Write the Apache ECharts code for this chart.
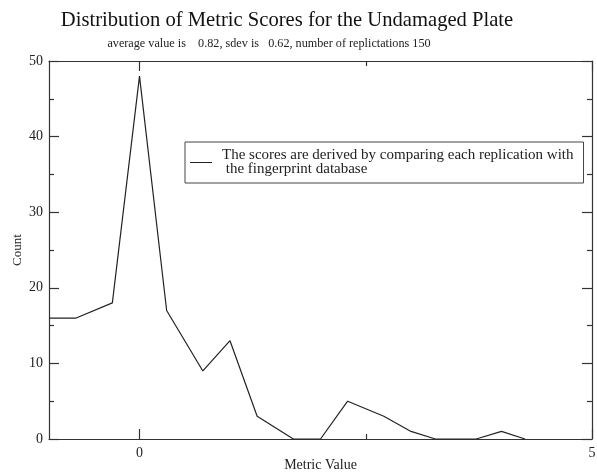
<!DOCTYPE html>
<html>
  <head>
    <meta charset="utf-8" />
    <title>Distribution of Metric Scores</title>
    <script src="https://cdn.jsdelivr.net/npm/echarts@6/dist/echarts.min.js"></script>
    <style>
      html, body { margin: 0; padding: 0; background: #fff; }
      #main { width: 597px; height: 472px; }
    </style>
  </head>
  <body>
    <div id="main"></div>
    <script>
      // metric values (x) and counts (y)
      var metric = [-1, -0.7, -0.3, 0, 0.3, 0.7, 1, 1.3, 1.7, 2, 2.3, 2.7, 3, 3.27, 3.72, 4, 4.26];
      var counts = [16, 16, 18, 48, 17, 9, 13, 3, 0, 0, 5, 3, 1, 0, 0, 1, 0];
      var xMajor = [0, 5];
      var xMinor = [2.5];
      var legendName = 'The scores are derived by comparing each replication with\n the fingerprint database';

      var font = 'Liberation Serif';
      var axisCol = '#333';

      var points = metric.map(function (m, i) { return [m, counts[i]]; });

      // one x axis helper: position, which ticks, labels or not
      function xAx(pos, ticks, len, labels, line) {
        return {
          type: 'value', min: -1, max: 5, position: pos,
          axisLine: { show: line, onZero: false, lineStyle: { color: axisCol, width: 1.2 } },
          axisTick: { show: true, inside: true, length: len, customValues: ticks,
                      lineStyle: { color: axisCol, width: 1.2 } },
          axisLabel: { show: labels, customValues: xMajor, fontFamily: font, fontSize: 14,
                       color: '#222', margin: 7 },
          splitLine: { show: false },
          name: labels ? 'Metric Value' : '', nameLocation: 'middle', nameGap: 19,
          nameMoveOverlap: false,
          nameTextStyle: { fontFamily: font, fontSize: 14, color: '#222' }
        };
      }

      function yAx(pos, labels) {
        return {
          type: 'value', min: 0, max: 50, interval: 10, position: pos,
          axisLine: { show: true, onZero: false, lineStyle: { color: axisCol, width: 1.2 } },
          axisTick: { show: true, inside: true, length: 10, lineStyle: { color: axisCol, width: 1.2 } },
          minorTick: { show: true, splitNumber: 2, length: 5, lineStyle: { color: axisCol, width: 1.2 } },
          axisLabel: { show: labels, fontFamily: font, fontSize: 14, color: '#222', margin: 6 },
          splitLine: { show: false },
          name: labels ? 'Count' : '', nameLocation: 'middle', nameGap: 25,
          nameMoveOverlap: false,
          nameTextStyle: { fontFamily: font, fontSize: 13, color: '#222' }
        };
      }

      var chart = echarts.init(document.getElementById('main'));
      chart.setOption({
        backgroundColor: '#fff',
        animation: false,
        title: [{
          text: 'Distribution of Metric Scores for the Undamaged Plate',
          left: 282, textAlign: 'center', top: 5,
          textStyle: { fontFamily: font, fontSize: 20.6, fontWeight: 'normal', color: '#111' }
        }, {
          text: 'average value is    0.82, sdev is   0.62, number of replictations 150',
          left: 264, textAlign: 'center', top: 33,
          textStyle: { fontFamily: font, fontSize: 12.2, fontWeight: 'normal', color: '#222' }
        }],
        grid: { left: 49, right: 5, top: 61, bottom: 33, outerBoundsMode: 'none', containLabel: false },
        legend: {
          left: 185, top: 142,
          orient: 'vertical',
          padding: [6, 10, 6, 5],
          borderColor: '#444', borderWidth: 1,
          itemWidth: 22, itemHeight: 1,
          icon: 'rect',
          itemStyle: { color: '#222' },
          textStyle: { fontFamily: font, fontSize: 15, color: '#222', lineHeight: 14, padding: [0, 0, 0, 5] },
          data: [legendName]
        },
        xAxis: [
          xAx('bottom', xMajor, 10, true, true),
          xAx('top', xMajor, 10, false, true),
          xAx('bottom', xMinor, 5, false, false),
          xAx('top', xMinor, 5, false, false)
        ],
        yAxis: [yAx('left', true), yAx('right', false)],
        series: [{
          name: legendName,
          type: 'line',
          data: points,
          showSymbol: false,
          symbol: 'none',
          lineStyle: { color: '#222', width: 1.2 },
          itemStyle: { color: '#222' }
        }]
      });
    </script>
  </body>
</html>
